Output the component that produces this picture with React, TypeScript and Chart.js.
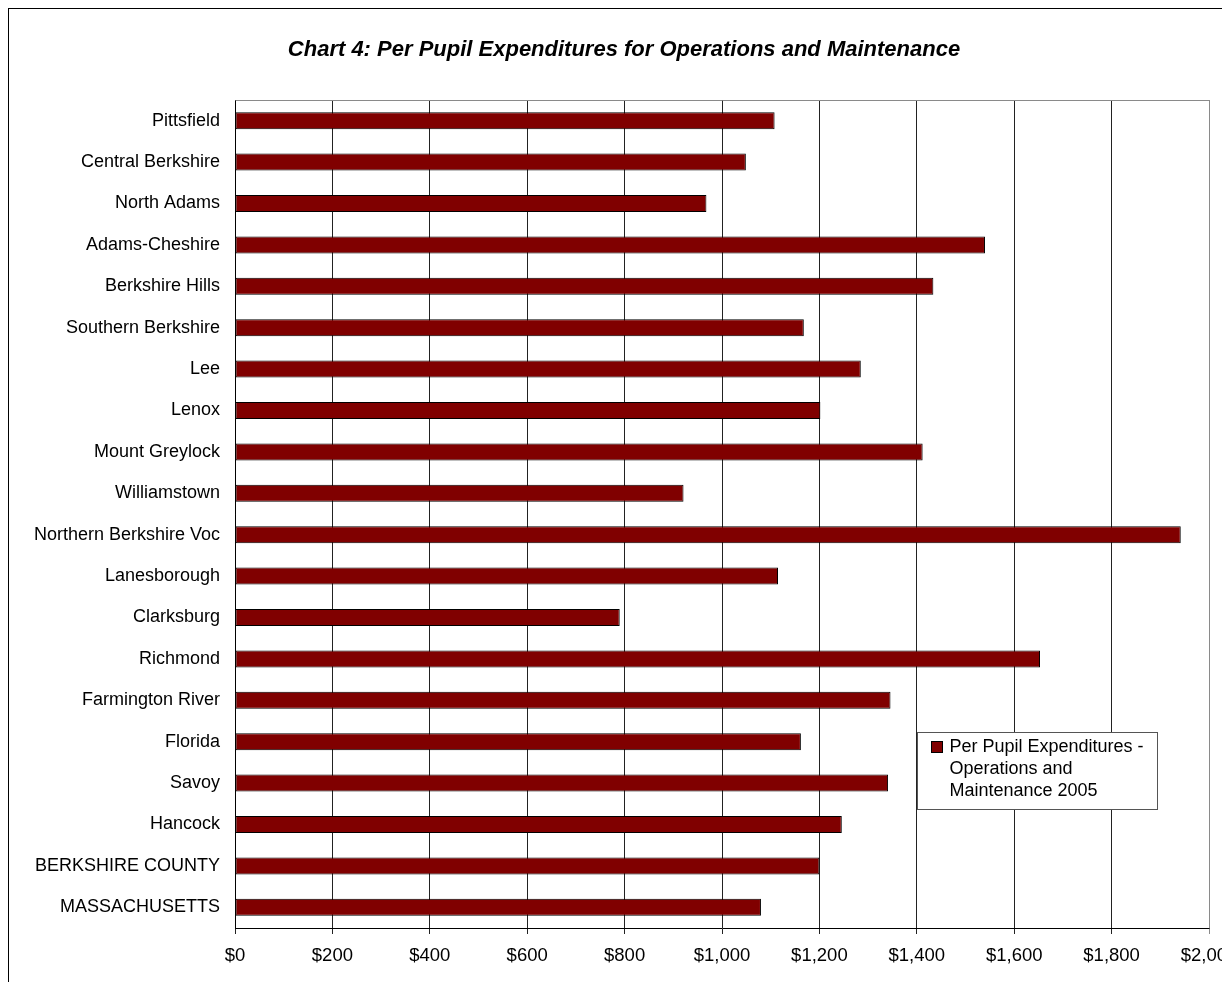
import React, { useEffect, useRef } from "react";
import { Chart, registerables } from "chart.js";

Chart.register(...registerables);

const TITLE = "Chart 4: Per Pupil Expenditures for Operations and Maintenance";

const CATEGORIES = [
  "Pittsfield",
  "Central Berkshire",
  "North Adams",
  "Adams-Cheshire",
  "Berkshire Hills",
  "Southern Berkshire",
  "Lee",
  "Lenox",
  "Mount Greylock",
  "Williamstown",
  "Northern Berkshire Voc",
  "Lanesborough",
  "Clarksburg",
  "Richmond",
  "Farmington River",
  "Florida",
  "Savoy",
  "Hancock",
  "BERKSHIRE COUNTY",
  "MASSACHUSETTS",
];

const VALUES = [
  1108, 1049, 968, 1540, 1434, 1168, 1285, 1202, 1412, 921, 1942, 1115, 790,
  1653, 1346, 1162, 1341, 1246, 1200, 1080,
];

const SERIES_LABEL_LINES = [
  "Per Pupil Expenditures -",
  "Operations and",
  "Maintenance 2005",
];

const X_TICKS = [0, 200, 400, 600, 800, 1000, 1200, 1400, 1600, 1800, 2000];

const FONT = "'Liberation Sans', Arial, sans-serif";
const BAR_COLOR = "#800000";

const decorPlugin = {
  id: "decor",
  beforeDatasetsDraw(chart: any) {
    const { ctx, chartArea } = chart;
    ctx.save();
    ctx.strokeStyle = "#8a8a8a";
    ctx.lineWidth = 1;
    ctx.beginPath();
    ctx.moveTo(Math.round(chartArea.left) + 0.5, Math.round(chartArea.top) + 0.5);
    ctx.lineTo(Math.round(chartArea.right) + 0.5, Math.round(chartArea.top) + 0.5);
    ctx.lineTo(Math.round(chartArea.right) + 0.5, Math.round(chartArea.bottom) + 0.5);
    ctx.stroke();
    ctx.restore();
  },
  afterDraw(chart: any) {
    const { ctx, chartArea } = chart;
    ctx.save();
    // title
    ctx.fillStyle = "#000";
    ctx.font = `italic bold 22px ${FONT}`;
    ctx.textAlign = "center";
    ctx.textBaseline = "alphabetic";
    ctx.fillText(TITLE, 615, 47);

    // legend
    const bx = Math.round(chartArea.right - 292) + 0.5;
    const by = Math.round(chartArea.top + 632) + 0.5;
    const bw = 240;
    const bh = 77;
    ctx.fillStyle = "#fff";
    ctx.fillRect(bx, by, bw, bh);
    ctx.strokeStyle = "#555";
    ctx.lineWidth = 1;
    ctx.strokeRect(bx, by, bw, bh);
    const color = chart.data.datasets[0].backgroundColor;
    ctx.fillStyle = color;
    ctx.fillRect(bx + 14, by + 9, 11, 11);
    ctx.strokeStyle = "#000";
    ctx.strokeRect(bx + 14, by + 9, 11, 11);
    ctx.fillStyle = "#000";
    ctx.font = `18px ${FONT}`;
    ctx.textAlign = "left";
    ctx.textBaseline = "middle";
    SERIES_LABEL_LINES.forEach((line, i) => {
      ctx.fillText(line, bx + 32, by + 15 + i * 22);
    });
    ctx.restore();
  },
};

export default function App() {
  const canvasRef = useRef<HTMLCanvasElement | null>(null);

  useEffect(() => {
    if (!canvasRef.current) return;
    const chart = new Chart(canvasRef.current, {
      type: "bar",
      data: {
        labels: CATEGORIES,
        datasets: [
          {
            label: SERIES_LABEL_LINES.join(" "),
            data: VALUES,
            backgroundColor: BAR_COLOR,
            borderColor: "#000",
            borderWidth: 1,
            borderSkipped: false,
            categoryPercentage: 1,
            barPercentage: 0.41,
          },
        ],
      },
      options: {
        indexAxis: "y",
        animation: false,
        responsive: true,
        maintainAspectRatio: false,
        layout: { padding: { left: 0, top: 91, right: 100, bottom: 0 } },
        plugins: {
          legend: { display: false },
          title: { display: false },
          tooltip: { enabled: false },
        },
        scales: {
          x: {
            type: "linear",
            position: "bottom",
            min: 0,
            max: 2000,
            afterBuildTicks: (scale: any) => {
              scale.ticks = X_TICKS.map((v) => ({ value: v }));
            },
            afterFit: (scale: any) => {
              scale.height = 54;
            },
            grid: {
              display: true,
              color: (c: any) => (c.tick && c.tick.value === 2000 ? "#8a8a8a" : "#222"),
              lineWidth: 1,
              drawTicks: true,
              tickLength: 6,
            },
            border: { display: true, color: "#000", width: 1 },
            ticks: {
              color: "#000",
              font: { family: FONT, size: 18.5 },
              padding: 11,
              maxRotation: 0,
              autoSkip: false,
              callback: (v: any) => "$" + Number(v).toLocaleString("en-US"),
            },
          },
          y: {
            type: "category",
            position: "left",
            afterFit: (scale: any) => {
              scale.width = 226;
            },
            grid: { display: false, drawTicks: false },
            border: { display: true, color: "#000", width: 1 },
            ticks: {
              color: "#000",
              font: { family: FONT, size: 18 },
              padding: 15,
              autoSkip: false,
            },
          },
        },
      },
      plugins: [decorPlugin],
    });
    return () => chart.destroy();
  }, []);

  return (
    <div
      style={{
        position: "relative",
        width: 1222,
        height: 974,
        borderTop: "1px solid #000",
        borderLeft: "1px solid #000",
        boxSizing: "border-box",
        overflow: "hidden",
      }}
    >
      <div style={{ position: "absolute", left: 0, top: 0, width: 1300, height: 973 }}>
        <canvas ref={canvasRef} />
      </div>
    </div>
  );
}
